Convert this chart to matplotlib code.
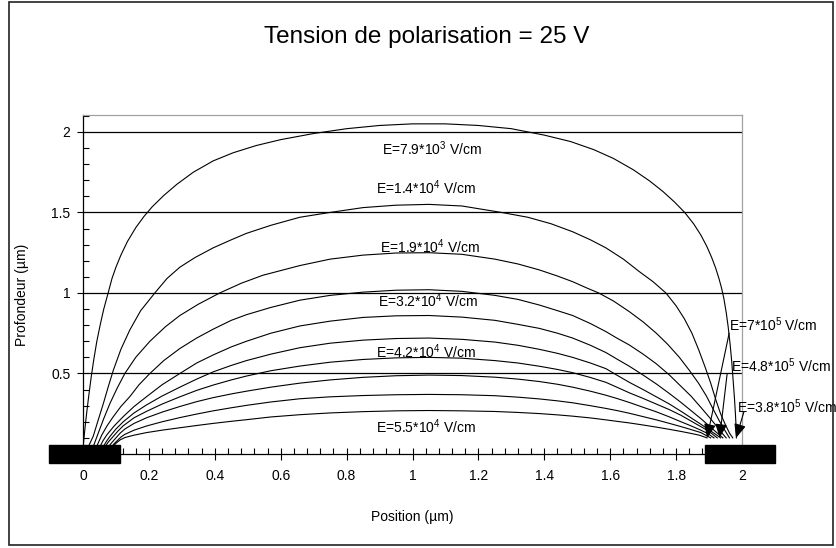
import matplotlib
matplotlib.use('Agg')
import matplotlib.pyplot as plt
from matplotlib.patches import Rectangle
from matplotlib.ticker import MultipleLocator

# field lines (x = position, y = depth, both in um)
x1 = [0.0, 0.003, 0.007, 0.012, 0.018, 0.025, 0.033, 0.042, 0.052, 0.063, 0.075, 0.088, 0.1,
      0.115, 0.135, 0.16, 0.185, 0.21, 0.245, 0.285, 0.335, 0.395, 0.455, 0.525, 0.6, 0.7, 0.8,
      0.9, 1.0, 1.1, 1.2, 1.3, 1.4, 1.48, 1.55, 1.61, 1.67, 1.72, 1.76, 1.795, 1.826, 1.853,
      1.875, 1.893, 1.908, 1.92, 1.93, 1.938, 1.945, 1.952, 1.958, 1.964, 1.969, 1.973, 1.977,
      1.98, 1.982, 1.983]
y1 = [0.04, 0.1, 0.18, 0.27, 0.37, 0.48, 0.59, 0.7, 0.8, 0.9, 0.99, 1.09, 1.16,
      1.235, 1.32, 1.405, 1.475, 1.535, 1.605, 1.675, 1.75, 1.82, 1.87, 1.915, 1.952, 1.99, 2.02,
      2.04, 2.05, 2.05, 2.04, 2.02, 1.98, 1.94, 1.89, 1.835, 1.765, 1.695, 1.63, 1.565, 1.5, 1.43,
      1.36, 1.29, 1.22, 1.155, 1.09, 1.03, 0.965, 0.88, 0.79, 0.68, 0.57, 0.46, 0.35,
      0.25, 0.17, 0.10]

x2 = [0.015, 0.031, 0.046, 0.062, 0.077, 0.092, 0.115, 0.142, 0.175, 0.218, 0.255, 0.294, 0.34,
      0.395, 0.45, 0.496, 0.57, 0.658, 0.75, 0.85, 0.95, 1.05, 1.15, 1.27, 1.35, 1.42, 1.486,
      1.54, 1.587, 1.64, 1.69, 1.73, 1.769, 1.8, 1.825, 1.848, 1.868, 1.888, 1.905, 1.92, 1.935,
      1.95, 1.962, 1.972]
y2 = [0.04, 0.11, 0.21, 0.315, 0.42, 0.52, 0.65, 0.77, 0.89, 1.0, 1.09, 1.16, 1.22,
      1.28, 1.33, 1.37, 1.42, 1.47, 1.5, 1.53, 1.545, 1.55, 1.54, 1.5, 1.47, 1.43, 1.38,
      1.33, 1.28, 1.21, 1.13, 1.07, 1.0, 0.92, 0.84, 0.75, 0.65, 0.54, 0.44, 0.34, 0.25,
      0.18, 0.13, 0.10]

x3 = [0.03, 0.046, 0.063, 0.082, 0.104, 0.127, 0.16, 0.203, 0.25, 0.294, 0.35, 0.415, 0.48,
      0.546, 0.658, 0.75, 0.85, 0.95, 1.05, 1.15, 1.25, 1.32, 1.385, 1.44, 1.486, 1.53, 1.565,
      1.61, 1.658, 1.7, 1.74, 1.775, 1.81, 1.84, 1.868, 1.892, 1.912, 1.93, 1.947, 1.962]
y3 = [0.04, 0.128, 0.22, 0.315, 0.41, 0.5, 0.6, 0.7, 0.79, 0.86, 0.93, 1.0, 1.06,
      1.11, 1.17, 1.21, 1.235, 1.248, 1.25, 1.24, 1.21, 1.18, 1.143, 1.105, 1.07, 1.03, 1.0,
      0.95, 0.884, 0.82, 0.75, 0.68, 0.6, 0.52, 0.44, 0.36, 0.28, 0.21, 0.15, 0.10]

x4 = [0.04, 0.057, 0.073, 0.092, 0.115, 0.142, 0.17, 0.203, 0.245, 0.294, 0.345, 0.395, 0.45,
      0.496, 0.57, 0.658, 0.75, 0.85, 0.95, 1.05, 1.15, 1.25, 1.32, 1.385, 1.44, 1.486, 1.54,
      1.587, 1.62, 1.658, 1.7, 1.74, 1.78, 1.815, 1.845, 1.875, 1.9, 1.92, 1.937, 1.952]
y4 = [0.04, 0.118, 0.175, 0.232, 0.295, 0.356, 0.43, 0.5, 0.58, 0.655, 0.72, 0.775, 0.83,
      0.865, 0.91, 0.955, 0.985, 1.005, 1.017, 1.02, 1.01, 0.985, 0.96, 0.925, 0.89, 0.86, 0.81,
      0.76, 0.72, 0.677, 0.62, 0.56, 0.49, 0.42, 0.36, 0.29, 0.23, 0.18, 0.135, 0.10]

x5 = [0.05, 0.06, 0.072, 0.095, 0.122, 0.155, 0.193, 0.24, 0.294, 0.345, 0.395, 0.45, 0.496,
      0.57, 0.658, 0.75, 0.85, 0.95, 1.05, 1.15, 1.25, 1.32, 1.385, 1.44, 1.486, 1.54, 1.587,
      1.62, 1.658, 1.7, 1.74, 1.78, 1.815, 1.845, 1.875, 1.9, 1.922, 1.942]
y5 = [0.04, 0.08, 0.118, 0.175, 0.232, 0.295, 0.356, 0.43, 0.5, 0.565, 0.615, 0.665, 0.7,
      0.75, 0.795, 0.825, 0.848, 0.858, 0.86, 0.85, 0.83, 0.805, 0.78, 0.75, 0.72, 0.675, 0.63,
      0.59, 0.545, 0.49, 0.435, 0.375, 0.32, 0.27, 0.22, 0.175, 0.135, 0.10]

x6 = [0.06, 0.07, 0.082, 0.1, 0.122, 0.155, 0.193, 0.24, 0.294, 0.345, 0.395, 0.45, 0.496,
      0.57, 0.658, 0.75, 0.85, 0.95, 1.05, 1.15, 1.25, 1.32, 1.385, 1.44, 1.486, 1.54, 1.587,
      1.62, 1.658, 1.7, 1.74, 1.78, 1.815, 1.845, 1.875, 1.9, 1.918, 1.935]
y6 = [0.04, 0.075, 0.11, 0.155, 0.2, 0.255, 0.305, 0.36, 0.415, 0.465, 0.51, 0.55, 0.58,
      0.62, 0.66, 0.688, 0.707, 0.717, 0.72, 0.712, 0.695, 0.675, 0.65, 0.625, 0.6, 0.565, 0.53,
      0.49, 0.445, 0.4, 0.355, 0.31, 0.265, 0.225, 0.185, 0.15, 0.125, 0.10]

x7 = [0.065, 0.077, 0.09, 0.105, 0.122, 0.155, 0.193, 0.24, 0.294, 0.345, 0.395, 0.45, 0.496,
      0.57, 0.658, 0.75, 0.85, 0.95, 1.05, 1.15, 1.25, 1.32, 1.385, 1.44, 1.486, 1.54, 1.587,
      1.62, 1.658, 1.7, 1.74, 1.78, 1.815, 1.845, 1.875, 1.9, 1.925]
y7 = [0.04, 0.075, 0.105, 0.14, 0.175, 0.225, 0.265, 0.31, 0.355, 0.395, 0.428, 0.46, 0.484,
      0.517, 0.546, 0.57, 0.587, 0.597, 0.6, 0.595, 0.58, 0.565, 0.545, 0.525, 0.505, 0.475, 0.445,
      0.415, 0.38, 0.345, 0.31, 0.275, 0.24, 0.205, 0.17, 0.14, 0.10]

x8 = [0.075, 0.087, 0.1, 0.113, 0.127, 0.155, 0.193, 0.24, 0.294, 0.345, 0.395, 0.45, 0.496,
      0.57, 0.658, 0.75, 0.85, 0.95, 1.05, 1.15, 1.25, 1.32, 1.385, 1.44, 1.486, 1.54, 1.587,
      1.62, 1.658, 1.7, 1.74, 1.78, 1.815, 1.845, 1.875, 1.895, 1.915]
y8 = [0.04, 0.07, 0.1, 0.13, 0.155, 0.19, 0.225, 0.26, 0.295, 0.325, 0.35, 0.373, 0.39,
      0.415, 0.44, 0.46, 0.476, 0.486, 0.49, 0.487, 0.477, 0.465, 0.45, 0.433, 0.415, 0.39, 0.365,
      0.345, 0.32, 0.29, 0.262, 0.23, 0.2, 0.175, 0.148, 0.128, 0.10]

x9 = [0.085, 0.095, 0.105, 0.115, 0.127, 0.155, 0.193, 0.24, 0.294, 0.345, 0.395, 0.45, 0.496,
      0.57, 0.658, 0.75, 0.85, 0.95, 1.05, 1.15, 1.25, 1.32, 1.385, 1.44, 1.486, 1.54, 1.587,
      1.62, 1.658, 1.7, 1.74, 1.78, 1.815, 1.845, 1.875, 1.905]
y9 = [0.04, 0.065, 0.085, 0.105, 0.122, 0.148, 0.174, 0.2, 0.226, 0.248, 0.268, 0.287, 0.302,
      0.323, 0.343, 0.355, 0.363, 0.368, 0.37, 0.368, 0.362, 0.353, 0.342, 0.33, 0.318, 0.3, 0.283,
      0.27, 0.253, 0.232, 0.212, 0.19, 0.17, 0.152, 0.133, 0.10]

x10 = [0.092, 0.102, 0.113, 0.127, 0.155, 0.193, 0.24, 0.294, 0.345, 0.395, 0.45, 0.496,
       0.57, 0.658, 0.75, 0.85, 0.95, 1.05, 1.15, 1.25, 1.32, 1.385, 1.44, 1.486, 1.54, 1.587,
       1.62, 1.658, 1.7, 1.74, 1.78, 1.815, 1.845, 1.87, 1.894]
y10 = [0.05, 0.07, 0.088, 0.102, 0.117, 0.133, 0.148, 0.163, 0.177, 0.19, 0.203, 0.213,
       0.23, 0.244, 0.255, 0.263, 0.268, 0.27, 0.268, 0.264, 0.258, 0.251, 0.243, 0.235, 0.224, 0.212,
       0.203, 0.193, 0.18, 0.167, 0.153, 0.14, 0.128, 0.117, 0.10]

field_lines = [(x1, y1), (x2, y2), (x3, y3), (x4, y4), (x5, y5),
               (x6, y6), (x7, y7), (x8, y8), (x9, y9), (x10, y10)]

# labels in the middle of the gap
mid_labels = [r'E=7.9*10$^{3}$ V/cm', r'E=1.4*10$^{4}$ V/cm', r'E=1.9*10$^{4}$ V/cm',
              r'E=3.2*10$^{4}$ V/cm', r'E=4.2*10$^{4}$ V/cm', r'E=5.5*10$^{4}$ V/cm']
mid_label_x = [1.058, 1.042, 1.052, 1.046, 1.042, 1.04]
mid_label_y = [1.894, 1.655, 1.286, 0.952, 0.635, 0.17]

# labels with arrows near the right electrode
edge_labels = [r'E=7*10$^{5}$ V/cm', r'E=4.8*10$^{5}$ V/cm', r'E=3.8*10$^{5}$ V/cm']
edge_label_xy = [(1.961, 0.80), (1.966, 0.547), (1.985, 0.294)]
edge_tail_xy = [(1.961, 0.75), (1.955, 0.50), (2.006, 0.263)]
edge_tip_xy = [(1.894, 0.10), (1.932, 0.10), (1.982, 0.10)]

plt.rcParams['font.family'] = ['Liberation Sans', 'DejaVu Sans']
plt.rcParams['mathtext.default'] = 'regular'

fig = plt.figure(figsize=(8.36, 5.48), dpi=100)
ax = fig.add_axes([83 / 836, 1 - 454 / 548, (742 - 83) / 836, (454 - 115) / 548])

ax.set_xlim(0, 2)
ax.set_ylim(0, 2.105)

for yg in [0.5, 1.0, 1.5, 2.0]:
    ax.axhline(yg, color='black', lw=0.9, zorder=1)

for xs, ys in field_lines:
    ax.plot(xs, ys, color='black', lw=0.8, zorder=2)

for txt, tx, ty in zip(mid_labels, mid_label_x, mid_label_y):
    ax.text(tx, ty, txt, ha='center', va='center', fontsize=10, zorder=3)

for txt, lxy, txy, pxy in zip(edge_labels, edge_label_xy, edge_tail_xy, edge_tip_xy):
    ax.text(lxy[0], lxy[1], txt, ha='left', va='center', fontsize=10, zorder=3, clip_on=False)
    ax.annotate('', xy=pxy, xytext=txy, annotation_clip=False,
                arrowprops=dict(arrowstyle='-|>,head_length=0.7,head_width=0.3',
                                mutation_scale=12, color='black', lw=0.8,
                                shrinkA=0, shrinkB=0))

# electrodes
ax.add_patch(Rectangle((-0.103, -0.054), 0.215, 0.11, facecolor='black',
                       edgecolor='black', clip_on=False, zorder=5))
ax.add_patch(Rectangle((1.888, -0.054), 0.212, 0.11, facecolor='black',
                       edgecolor='black', clip_on=False, zorder=5))

ax.spines['top'].set_color('#a0a0a0')
ax.spines['right'].set_color('#a0a0a0')
ax.spines['left'].set_color('black')
ax.spines['bottom'].set_color('black')
for s in ax.spines.values():
    s.set_linewidth(0.9)

ax.xaxis.set_minor_locator(MultipleLocator(0.04))
ax.yaxis.set_minor_locator(MultipleLocator(0.1))
ax.set_xticks([0, 0.2, 0.4, 0.6, 0.8, 1, 1.2, 1.4, 1.6, 1.8, 2])
ax.set_xticklabels(['0', '0.2', '0.4', '0.6', '0.8', '1', '1.2', '1.4', '1.6', '1.8', '2'])
ax.set_yticks([0.5, 1, 1.5, 2])
ax.set_yticklabels(['0.5', '1', '1.5', '2'])
ax.tick_params(axis='x', which='major', direction='inout', length=9, width=0.8, pad=6, labelsize=10)
ax.tick_params(axis='x', which='minor', direction='in', length=4, width=0.8)
ax.tick_params(axis='y', which='major', direction='out', length=4, width=0.8, pad=5, labelsize=10)
ax.tick_params(axis='y', which='minor', direction='in', length=4, width=0.8)

ax.set_xlabel('Position (µm)', fontsize=10, labelpad=20)
ax.set_ylabel('Profondeur (µm)', fontsize=10)
ax.yaxis.set_label_coords(-0.082, 0.47)

fig.text(426.7 / 836, 1 - 37 / 548, 'Tension de polarisation = 25 V',
         fontsize=17.5, ha='center', va='center')

# outer frame
fig.patches.append(Rectangle((9 / 836, 1 - 545 / 548), (833 - 9) / 836, (545 - 2) / 548,
                             transform=fig.transFigure, fill=False, edgecolor='#222222', lw=1.2))

fig.savefig('out.png', dpi=100)
